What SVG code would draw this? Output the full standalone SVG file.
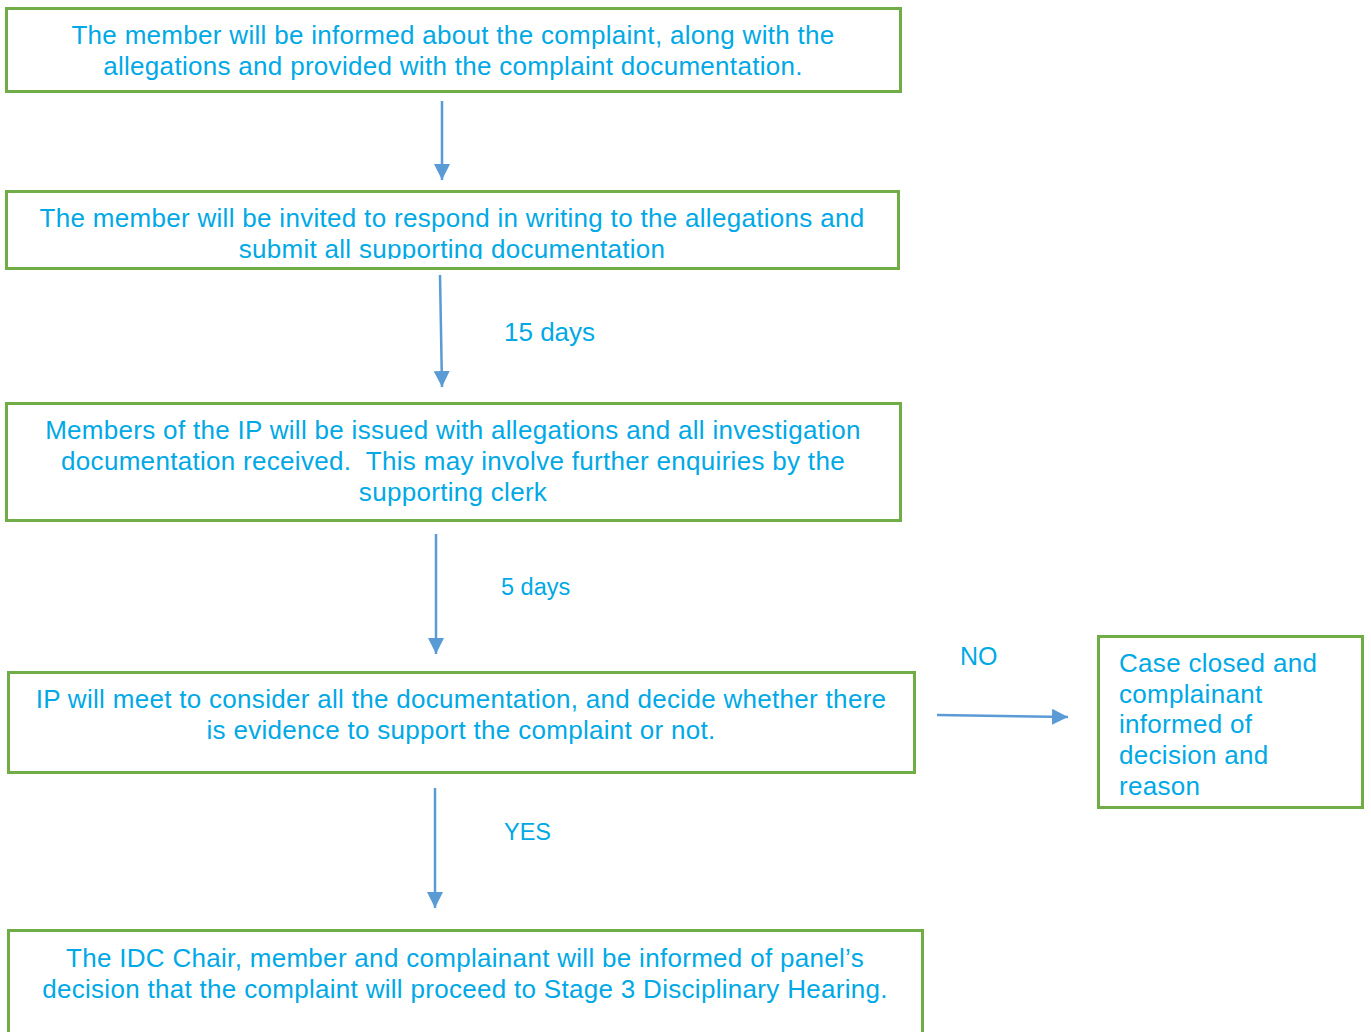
<svg xmlns="http://www.w3.org/2000/svg" width="1371" height="1032" viewBox="0 0 1371 1032">
<style>
.box{fill:#fff;stroke:#70AD47;stroke-width:3}
.t{font-family:"Liberation Sans",Arial,sans-serif;font-size:26px;letter-spacing:0.3px;fill:#00A9E6}
.c{text-anchor:middle}
.lbl{font-family:"Liberation Sans",Arial,sans-serif;fill:#00A9E6}
.conn{stroke:#5B9BD5;stroke-width:2.5;fill:none}
</style>
<defs>
<marker id="ah2" viewBox="0 0 16 16" markerWidth="16" markerHeight="16" refX="16" refY="8" orient="auto" markerUnits="userSpaceOnUse"><path d="M0,0 L16,8 L0,16 z" fill="#5B9BD5"/></marker>
<clipPath id="clip2"><rect x="6" y="191" width="892" height="68"/></clipPath>
</defs>
<g id="n1">
<rect class="box" x="6.5" y="8.5" width="894" height="83"/>
<text class="t c" x="453" y="44">The member will be informed about the complaint, along with the</text>
<text class="t c" x="453" y="75">allegations and provided with the complaint documentation.</text>
</g>
<g id="n2">
<rect class="box" x="6.5" y="191.5" width="892" height="77"/>
<g clip-path="url(#clip2)">
<text class="t c" x="452" y="227">The member will be invited to respond in writing to the allegations and</text>
<text class="t c" x="452" y="258">submit all supporting documentation</text>
</g>
</g>
<g id="n3">
<rect class="box" x="6.5" y="403.5" width="894" height="117"/>
<text class="t c" x="453" y="439">Members of the IP will be issued with allegations and all investigation</text>
<text class="t c" x="453" y="470" xml:space="preserve" style="white-space:pre">documentation received.  This may involve further enquiries by the</text>
<text class="t c" x="453" y="501">supporting clerk</text>
</g>
<g id="n4">
<rect class="box" x="8.5" y="672.5" width="906" height="100"/>
<text class="t c" x="461" y="708">IP will meet to consider all the documentation, and decide whether there</text>
<text class="t c" x="461" y="739">is evidence to support the complaint or not.</text>
</g>
<g id="n5">
<rect class="box" x="1098.5" y="636.5" width="264" height="171"/>
<text class="t" x="1119" y="672">Case closed and</text>
<text class="t" x="1119" y="703">complainant</text>
<text class="t" x="1119" y="733">informed of</text>
<text class="t" x="1119" y="764">decision and</text>
<text class="t" x="1119" y="795">reason</text>
</g>
<g id="n6">
<rect class="box" x="8.5" y="930.5" width="914" height="120"/>
<text class="t c" x="465" y="967">The IDC Chair, member and complainant will be informed of panel’s</text>
<text class="t c" x="465" y="998">decision that the complaint will proceed to Stage 3 Disciplinary Hearing.</text>
</g>
<g id="connectors">
<line class="conn" x1="442" y1="101" x2="442" y2="180" marker-end="url(#ah2)"/>
<line class="conn" x1="440" y1="275" x2="442" y2="387" marker-end="url(#ah2)"/>
<line class="conn" x1="436" y1="534" x2="436" y2="654" marker-end="url(#ah2)"/>
<line class="conn" x1="435" y1="788" x2="435" y2="908" marker-end="url(#ah2)"/>
<line class="conn" x1="937" y1="715" x2="1068" y2="717" marker-end="url(#ah2)"/>
<text class="lbl" x="504" y="341" font-size="26">15 days</text>
<text class="lbl" x="501" y="595" font-size="23.5">5 days</text>
<text class="lbl" x="960" y="665" font-size="25">NO</text>
<text class="lbl" x="504" y="840" font-size="23.5">YES</text>
</g>
</svg>
